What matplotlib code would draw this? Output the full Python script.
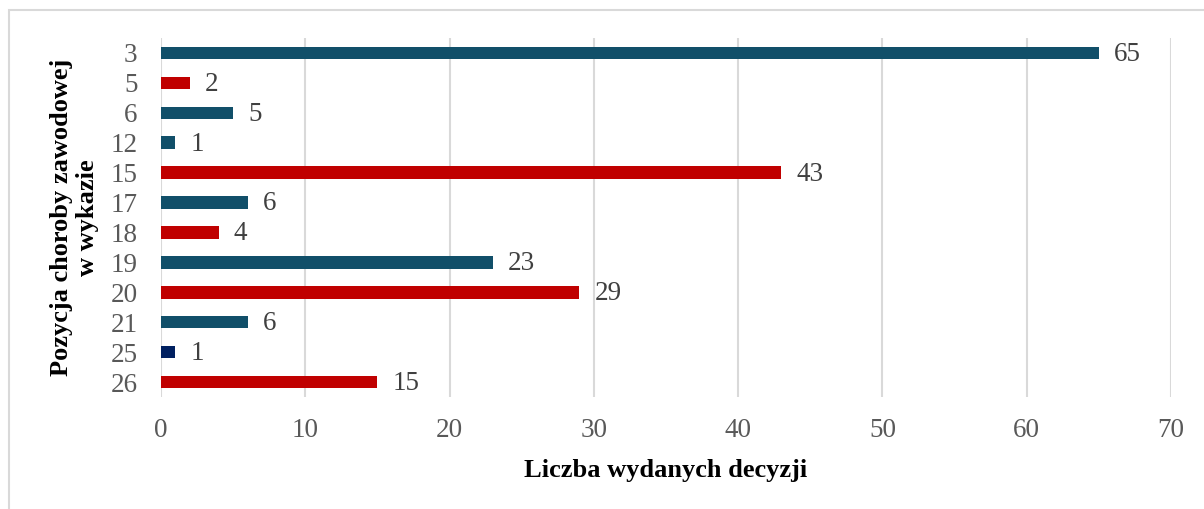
import matplotlib.pyplot as plt
from matplotlib.patches import Rectangle

positions = ['3', '5', '6', '12', '15', '17', '18', '19', '20', '21', '25', '26']
decisions = [65, 2, 5, 1, 43, 6, 4, 23, 29, 6, 1, 15]
bar_colors = ['#114f69', '#c00000', '#114f69', '#114f69', '#c00000', '#114f69',
              '#c00000', '#114f69', '#c00000', '#114f69', '#002060', '#c00000']

plt.rcParams['font.family'] = ['Liberation Serif', 'DejaVu Serif']

fig = plt.figure(figsize=(12.04, 5.09), dpi=100)
ax = fig.add_axes([161 / 1204, 1 - 397 / 509, 1010 / 1204, 359 / 509])

# outer chart frame (clipped by the figure edge)
fig.patches.append(Rectangle((8.5 / 1204, -0.1), 1.2, 1 - 9.5 / 509 + 0.1,
                             transform=fig.transFigure, fill=False,
                             edgecolor='#d9d9d9', linewidth=1.5))

y = list(range(len(positions)))
bars = ax.barh(y, decisions, height=0.42, color=bar_colors)
for b, v in zip(bars, decisions):
    ax.annotate(str(v), (b.get_width(), b.get_y() + b.get_height() / 2),
                xytext=(11, -1), textcoords='offset points',
                ha='left', va='center', fontsize=19.5, color='#404040')

ax.set_ylim(len(positions) - 0.5, -0.5)
ax.set_xlim(0, 70)
ax.set_xticks(range(0, 71, 10))
ax.set_yticks(y)
ax.set_yticklabels(positions)
ax.tick_params(length=0, labelsize=19.5, colors='#595959')
ax.tick_params(axis='x', pad=15)
ax.tick_params(axis='y', pad=17)
ax.grid(axis='x', color='#d9d9d9', linewidth=1.5)
ax.set_axisbelow(True)
for s in ax.spines.values():
    s.set_visible(False)

ax.set_xlabel('Liczba wydanych decyzji', fontsize=19, fontweight='bold', labelpad=12)
ax.set_ylabel('Pozycja choroby zawodowej\nw wykazie', fontsize=19,
              fontweight='bold', labelpad=8, linespacing=1.15)

fig.savefig('out.png', dpi=100)
